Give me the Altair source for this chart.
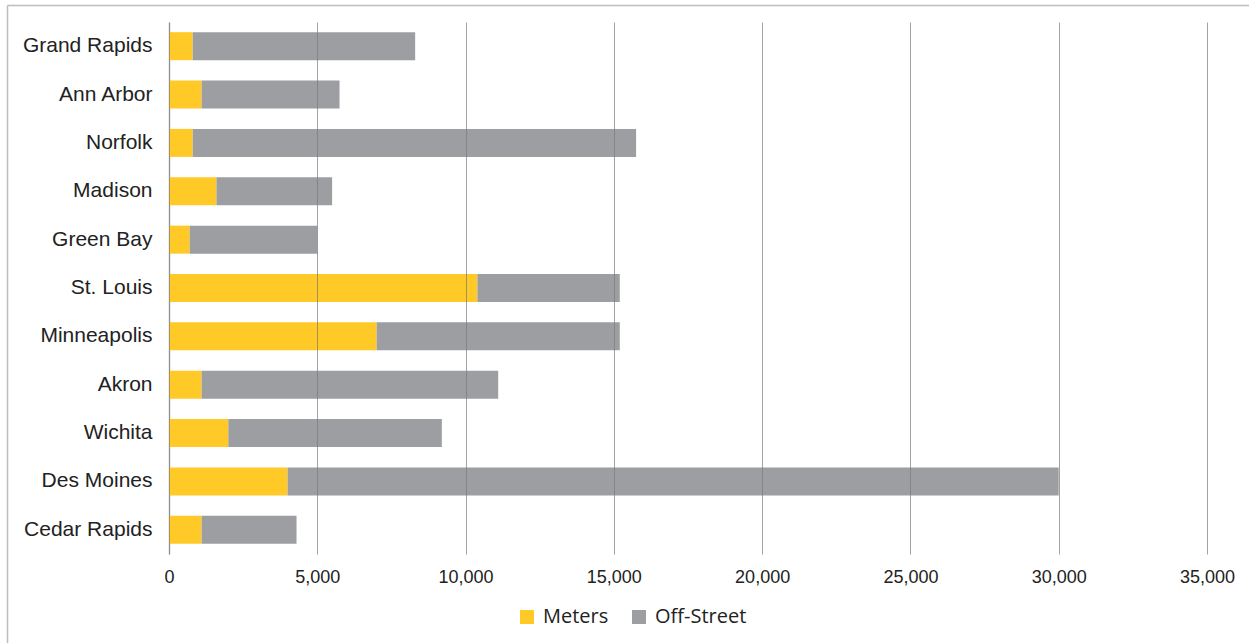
import altair as alt
import pandas as pd

# Parking spaces by city: on-street meters and off-street spaces
cities = ["Grand Rapids", "Ann Arbor", "Norfolk", "Madison", "Green Bay", "St. Louis",
          "Minneapolis", "Akron", "Wichita", "Des Moines", "Cedar Rapids"]
meters = [800, 1100, 800, 1600, 700, 10400, 7000, 1100, 2000, 4000, 1100]
off_street = [7500, 4650, 14950, 3900, 4300, 4800, 8200, 10000, 7200, 26000, 3200]
series = ["Meters", "Off-Street"]
colors = ["#FFC928", "#9D9EA2"]
x_ticks = [0, 5000, 10000, 15000, 20000, 25000, 30000, 35000]

rows = []
for c, m, o in zip(cities, meters, off_street):
    rows.append({"city": c, "type": "Meters", "spaces": m, "order": 0})
    rows.append({"city": c, "type": "Off-Street", "spaces": o, "order": 1})
df = pd.DataFrame(rows)

bars = alt.Chart(df).mark_bar(size=28).encode(
    y=alt.Y("city:N", sort=cities, title=None,
            scale=alt.Scale(paddingInner=0.42, paddingOuter=0.21),
            axis=alt.Axis(ticks=False, labelPadding=17, labelFontSize=21,
                          labelFont="Liberation Sans", labelColor="#222222",
                          domainColor="#BDBDBD", domainWidth=1.5, grid=False)),
    x=alt.X("spaces:Q", stack="zero", title=None,
            scale=alt.Scale(domain=[0, 35000], nice=False),
            axis=alt.Axis(values=x_ticks, format=",d", ticks=False, domain=False,
                          labelFlush=False, labelPadding=14, labelFontSize=18,
                          labelFont="Liberation Sans", labelColor="#222222",
                          grid=True, gridColor="#7A7A7A", gridOpacity=0.7,
                          gridWidth=1, zindex=1)),
    color=alt.Color("type:N", scale=alt.Scale(domain=series, range=colors), title=None,
                    legend=alt.Legend(orient="none", legendX=348, legendY=585,
                                      direction="horizontal", symbolType="square",
                                      symbolSize=196, symbolStrokeWidth=0,
                                      labelFont="Open Sans", labelFontSize=20,
                                      labelColor="#222222", labelOffset=6,
                                      columnPadding=20)),
    order=alt.Order("order:Q"),
)

edge = pd.DataFrame({"edge": [0]})
frame_top = alt.Chart(edge).mark_rule(color="#BDBDBD", strokeWidth=1.5).encode(
    x=alt.value(-161.5), x2=alt.value(1200), y=alt.value(-16.5))
frame_left = alt.Chart(edge).mark_rule(color="#BDBDBD", strokeWidth=1.5).encode(
    x=alt.value(-161.5), y=alt.value(-16.5), y2=alt.value(700))

chart = alt.layer(bars, frame_top, frame_left).properties(
    width=1038, height=532,
    autosize=alt.AutoSizeParams(type="none"),
    padding={"left": 169, "top": 22, "right": 42, "bottom": 89},
    background="white",
).configure_view(stroke=None)

chart.save("out.html", embed_options={"renderer": "svg", "actions": False})
